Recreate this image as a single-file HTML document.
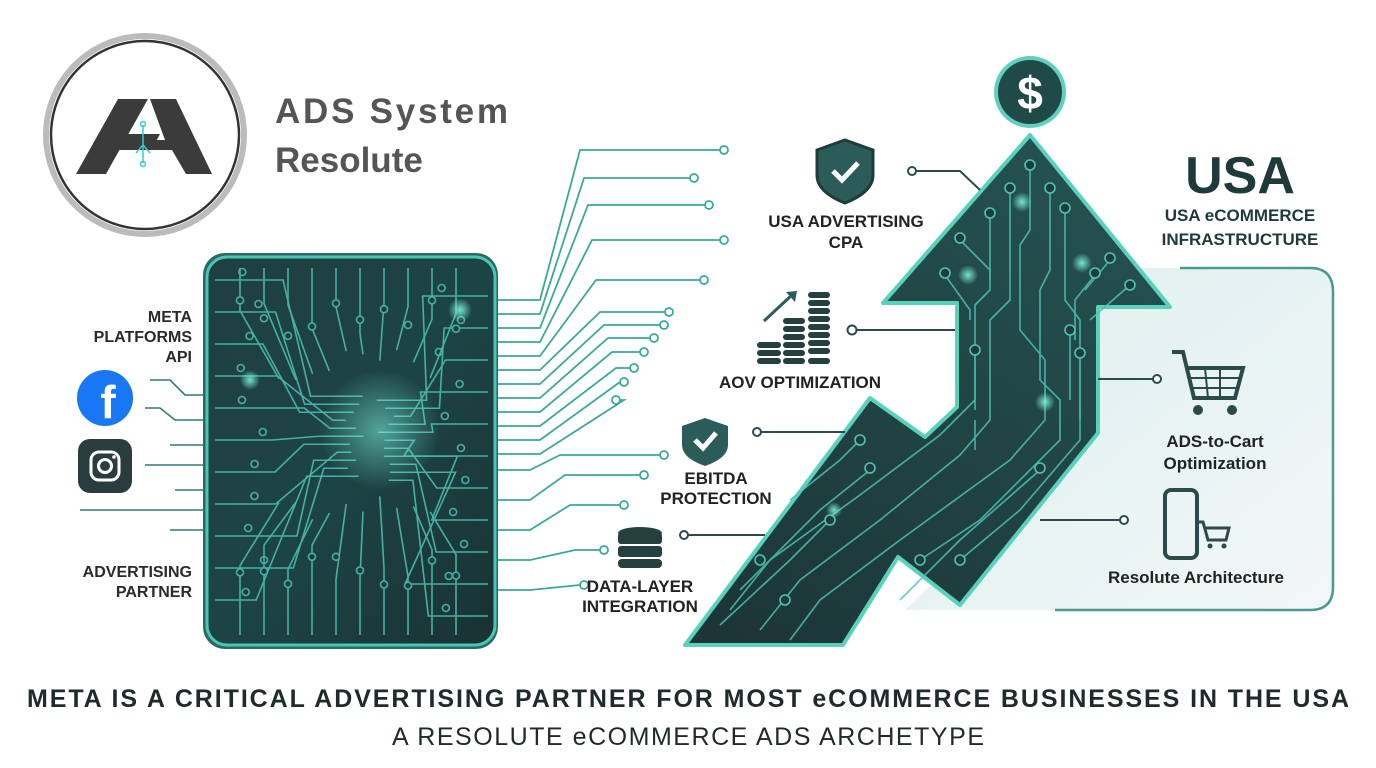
<!DOCTYPE html>
<html><head><meta charset="utf-8"><style>
html,body{margin:0;padding:0;background:#fff;}
svg{display:block}
text{font-family:"Liberation Sans",sans-serif;}
</style></head><body>
<svg width="1376" height="768" viewBox="0 0 1376 768" xmlns="http://www.w3.org/2000/svg">
<defs>
<linearGradient id="chip" x1="0" y1="0" x2="1" y2="1"><stop offset="0" stop-color="#1f3f41"/><stop offset="0.5" stop-color="#1d4445"/><stop offset="1" stop-color="#1a3234"/></linearGradient>
<linearGradient id="arr" x1="0" y1="1" x2="0.6" y2="0"><stop offset="0" stop-color="#1c3436"/><stop offset="1" stop-color="#24504f"/></linearGradient>
<linearGradient id="pan" x1="0" y1="0" x2="1" y2="1"><stop offset="0" stop-color="#dcefed"/><stop offset="1" stop-color="#f2f7f7"/></linearGradient>
<radialGradient id="glow"><stop offset="0" stop-color="#7ff5e0" stop-opacity="0.9"/><stop offset="1" stop-color="#7ff5e0" stop-opacity="0"/></radialGradient>
</defs>

<!-- logo -->
<circle cx="145" cy="135" r="99" fill="#fff" stroke="#bbb" stroke-width="6"/>
<circle cx="145" cy="135" r="94" fill="none" stroke="#333" stroke-width="2.5"/>
<polygon points="76,174 118,99 148,99 106,174" fill="#3b3b3b"/>
<polygon points="122,134 160,134 154,145 116,145" fill="#3b3b3b"/>
<polygon points="150,99 176,99 212,174 186,174 172,150 114,150 120,140 165,140" fill="#3b3b3b"/>
<g stroke="#3cc" stroke-width="1.5" fill="none"><line x1="143" y1="125" x2="143" y2="163"/><path d="M143 145 L136 153 M143 145 L150 153"/><circle cx="143" cy="124" r="2.5"/><circle cx="143" cy="164" r="2.5"/></g>
<text x="275" y="123" font-size="35" font-weight="bold" fill="#555" textLength="233">ADS System</text>
<text x="275" y="172" font-size="35" font-weight="bold" fill="#555">Resolute</text>

<!-- left labels -->
<g font-size="16" font-weight="bold" fill="#2a2a2a" text-anchor="end">
<text x="192" y="322">META</text><text x="192" y="342">PLATFORMS</text><text x="192" y="362">API</text>
<text x="192" y="577">ADVERTISING</text><text x="192" y="597">PARTNER</text>
</g>
<circle cx="105" cy="398" r="28" fill="#1877f2"/>
<text x="108" y="418" font-size="46" font-weight="bold" fill="#fff" text-anchor="middle">f</text>
<rect x="78" y="439" width="54" height="54" rx="12" fill="#2a3c3e"/>
<rect x="91" y="452" width="28" height="28" rx="8" fill="none" stroke="#fff" stroke-width="3"/>
<circle cx="105" cy="466" r="6.5" fill="none" stroke="#fff" stroke-width="3"/>
<circle cx="114" cy="457" r="1.8" fill="#fff"/>
<g stroke="#2e7a76" stroke-width="1.6" fill="none">
<path d="M150 380 H170 L185 395 H205"/><path d="M145 408 H160 L175 420 H205"/><path d="M170 445 H205"/><path d="M145 465 H205"/><path d="M80 510 H205"/><path d="M175 490 H205"/><path d="M170 530 H205"/>
</g>

<!-- chip -->
<rect x="203" y="253" width="295" height="396" rx="22" fill="#2a6a66"/>
<rect x="207" y="257" width="288" height="388" rx="20" fill="url(#chip)" stroke="#48c7b5" stroke-width="3"/>
<g id="ct" stroke="#4fc4b4" stroke-width="1.6" fill="none" opacity="0.85"></g>
<circle cx="380" cy="430" r="60" fill="url(#glow)" opacity="0.6"/>
<circle cx="460" cy="310" r="12" fill="url(#glow)"/>
<circle cx="250" cy="380" r="10" fill="url(#glow)"/>

<g stroke="#3aa89a" stroke-width="1.8" fill="none" id="cn"></g>

<!-- middle icons -->
<path d="M845 140 L873 150 V175 Q873 192 845 203 Q817 192 817 175 V150 Z" fill="#2b5c5a" stroke="#1e3c3c" stroke-width="3"/>
<path d="M833 171 L842 180 L858 163" stroke="#fff" stroke-width="5" fill="none"/>
<g font-size="17" font-weight="bold" fill="#222" text-anchor="middle">
<text x="846" y="227">USA ADVERTISING</text><text x="846" y="248">CPA</text>
<text x="800" y="388">AOV OPTIMIZATION</text>
<text x="716" y="484">EBITDA</text><text x="716" y="504">PROTECTION</text>
<text x="640" y="592">DATA-LAYER</text><text x="640" y="612">INTEGRATION</text>
</g>
<g fill="#24403f">
<rect x="757" y="342" width="24" height="6" rx="3"/><rect x="757" y="350" width="24" height="6" rx="3"/><rect x="757" y="358" width="24" height="6" rx="3"/>
<rect x="783" y="318" width="22" height="6" rx="3"/><rect x="783" y="326" width="22" height="6" rx="3"/><rect x="783" y="334" width="22" height="6" rx="3"/><rect x="783" y="342" width="22" height="6" rx="3"/><rect x="783" y="350" width="22" height="6" rx="3"/><rect x="783" y="358" width="22" height="6" rx="3"/>
<rect x="808" y="292" width="22" height="6" rx="3"/><rect x="808" y="300" width="22" height="6" rx="3"/><rect x="808" y="308" width="22" height="6" rx="3"/><rect x="808" y="316" width="22" height="6" rx="3"/><rect x="808" y="324" width="22" height="6" rx="3"/><rect x="808" y="332" width="22" height="6" rx="3"/><rect x="808" y="340" width="22" height="6" rx="3"/><rect x="808" y="348" width="22" height="6" rx="3"/><rect x="808" y="358" width="22" height="6" rx="3"/>
</g>
<path d="M764 321 L793 294" stroke="#2b5c5a" stroke-width="3"/><path d="M786 292 L797 291 L795 302 Z" fill="#2b5c5a"/>
<path d="M705 418 L728 426 V445 Q728 458 705 466 Q682 458 682 445 V426 Z" fill="#2b5c5a"/>
<path d="M695 440 L703 448 L716 433" stroke="#fff" stroke-width="5" fill="none"/>
<g fill="#24403f"><ellipse cx="640" cy="533" rx="22" ry="6"/><rect x="618" y="533" width="44" height="11" rx="3"/><rect x="618" y="546" width="44" height="11" rx="3"/><rect x="618" y="559" width="44" height="9" rx="4"/></g>
<g stroke="#fff" stroke-width="1.5"><line x1="618" y1="545" x2="662" y2="545"/><line x1="618" y1="558" x2="662" y2="558"/></g>

<!-- right panel -->
<path d="M1140 268 H1310 Q1333 268 1333 292 V587 Q1333 610 1310 610 H905 L1100 420 V300 Z" fill="url(#pan)"/>
<path d="M1180 268 H1310 Q1333 268 1333 292 V587 Q1333 610 1310 610 H1055" stroke="#4a9a92" stroke-width="2.5" fill="none"/>
<text x="1240" y="193" font-size="52" font-weight="bold" fill="#1e3a3a" text-anchor="middle">USA</text>
<g font-size="17" font-weight="bold" fill="#1e3a3a" text-anchor="middle"><text x="1240" y="221">USA eCOMMERCE</text><text x="1240" y="245">INFRASTRUCTURE</text></g>
<g font-size="17" font-weight="bold" fill="#222" text-anchor="middle"><text x="1215" y="447">ADS-to-Cart</text><text x="1215" y="469">Optimization</text><text x="1196" y="583">Resolute Architecture</text></g>
<g fill="none" stroke="#2b4b4b" stroke-width="4"><path d="M1172 352 H1183 L1194 398 H1235 L1243 368 H1186"/></g>
<g stroke="#2b4b4b" stroke-width="2"><line x1="1190" y1="378" x2="1240" y2="378"/><line x1="1190" y1="388" x2="1238" y2="388"/><line x1="1205" y1="368" x2="1208" y2="398"/><line x1="1220" y1="368" x2="1220" y2="398"/></g>
<circle cx="1198" cy="410" r="5" fill="#2b4b4b"/><circle cx="1232" cy="410" r="5" fill="#2b4b4b"/>
<rect x="1165" y="490" width="32" height="68" rx="6" fill="none" stroke="#2b4b4b" stroke-width="4"/>
<path d="M1195 522 H1203 L1208 540 H1226 L1229 528 H1205" stroke="#2b4b4b" stroke-width="3" fill="none"/>
<circle cx="1210" cy="546" r="2.5" fill="#2b4b4b"/><circle cx="1224" cy="546" r="2.5" fill="#2b4b4b"/>

<!-- arrow -->
<polygon points="1030,135 1170,307 1098,307 1098,433 960,605 898,557 843,645 685,645 870,398 925,437 957,407 957,303 883,303" fill="url(#arr)" stroke="#5ad1bd" stroke-width="4" stroke-linejoin="round"/>
<g stroke="#4fc4b4" stroke-width="1.6" fill="none" opacity="0.85">
<path d="M1030 165 V230 L1020 245 V330 L1045 360 V420 L1010 460 L900 540 L820 600 L790 640"/>
<path d="M1010 190 V300 L990 320 V420 L960 455 L880 520 L800 580 L760 630"/>
<path d="M1050 190 V270 L1040 290 V380 L1060 400 V440 L980 520 L920 560"/>
<path d="M990 215 V290 L975 305 V400 L940 435 L860 495 L770 560 L730 610"/>
<path d="M1065 210 V300 L1080 320 V440 L1020 510 L960 560"/>
<path d="M960 240 L990 270 V280"/><path d="M945 275 L970 310 V320"/><path d="M1095 275 L1075 300 V340"/><path d="M1110 260 L1085 290"/><path d="M1130 285 L1090 320"/>
<path d="M1070 330 V400"/><path d="M975 350 V410"/><path d="M975 420 V450"/><path d="M1080 360 V420"/>
<path d="M1040 470 L960 540 L900 600"/><path d="M860 440 L840 460 L790 500"/><path d="M870 470 L820 510 L740 590"/><path d="M830 520 L790 560 L720 625"/>
</g>
<g fill="#1f3c3c" stroke="#4fc4b4" stroke-width="1.6">
<circle cx="1030" cy="165" r="5"/><circle cx="1010" cy="188" r="5"/><circle cx="1050" cy="188" r="5"/><circle cx="990" cy="213" r="5"/><circle cx="1065" cy="208" r="5"/><circle cx="960" cy="238" r="5"/><circle cx="945" cy="273" r="5"/><circle cx="1095" cy="273" r="5"/><circle cx="1130" cy="285" r="5"/><circle cx="1110" cy="258" r="5"/><circle cx="975" cy="350" r="5"/><circle cx="1080" cy="353" r="5"/><circle cx="1070" cy="330" r="5"/><circle cx="860" cy="440" r="5"/><circle cx="870" cy="468" r="5"/><circle cx="830" cy="520" r="5"/><circle cx="1040" cy="468" r="5"/><circle cx="920" cy="560" r="5"/><circle cx="960" cy="560" r="5"/><circle cx="760" cy="560" r="5"/><circle cx="785" cy="600" r="5"/>
</g>
<circle cx="1022" cy="202" r="10" fill="url(#glow)"/><circle cx="968" cy="275" r="10" fill="url(#glow)"/><circle cx="1082" cy="263" r="10" fill="url(#glow)"/><circle cx="1045" cy="402" r="10" fill="url(#glow)"/><circle cx="834" cy="510" r="8" fill="url(#glow)"/>

<g stroke="#2b4b4b" stroke-width="2" fill="none">
<path d="M912 171 H960 L980 190"/><path d="M857 330 H955"/><path d="M758 432 H845"/><path d="M685 535 H765"/>
<path d="M1098 379 H1153"/><path d="M1040 520 H1122"/>
</g>
<g fill="#fff" stroke="#2b4b4b" stroke-width="2"><circle cx="912" cy="171" r="4"/><circle cx="852" cy="330" r="4.5"/><circle cx="757" cy="432" r="4"/><circle cx="684" cy="535" r="4"/><circle cx="1157" cy="379" r="4"/><circle cx="1124" cy="520" r="4"/></g>

<!-- dollar coin -->
<circle cx="1030" cy="92" r="36" fill="#5fd0bd"/>
<circle cx="1030" cy="92" r="32" fill="#1f4a48"/>
<text x="1030" y="109" font-size="46" font-weight="bold" fill="#fff" text-anchor="middle">$</text>

<!-- bottom text -->
<text x="688" y="707" font-size="25" font-weight="bold" fill="#1f2a2a" text-anchor="middle" textLength="1322">META IS A CRITICAL ADVERTISING PARTNER FOR MOST eCOMMERCE BUSINESSES IN THE USA</text>
<text x="688" y="745" font-size="25" fill="#1f2a2a" text-anchor="middle" textLength="592">A RESOLUTE eCOMMERCE ADS ARCHETYPE</text>

<script>
(function(){
var ns="http://www.w3.org/2000/svg";
function add(g,tag,attrs){var e=document.createElementNS(ns,tag);for(var k in attrs)e.setAttribute(k,attrs[k]);g.appendChild(e);return e;}
var ct=document.getElementById('ct');
var seed=7;function r(){seed=(seed*9301+49297)%233280;return seed/233280;}
var cx=370,cy=435;
for(var i=0;i<22;i++){
 var side=i%2? 1:-1;
 var y0=280+i*16;
 var x0= side<0?215:488;
 var bend=cx+side*(30+r()*60);
 var ty=cy+(y0-cy)*0.25;
 var d="M"+x0+" "+y0+" H"+(x0+side*-1*(40+r()*50))+" L"+bend+" "+ty+" H"+(cx+side*(5+r()*20));
 add(ct,'path',{d:d});
 add(ct,'circle',{cx:x0+side*-1*(20+r()*30),cy:y0-8,r:3.5,fill:'#1e3d3e'});
}
for(var j=0;j<10;j++){
 var x=240+j*24;
 add(ct,'path',{d:"M"+x+" 268 V"+(300+r()*40)+" L"+(x+ (cx-x)*0.3)+" "+(350+r()*30)});
 add(ct,'circle',{cx:x,cy:300+r()*40,r:3.5,fill:'#1e3d3e'});
 add(ct,'path',{d:"M"+x+" 635 V"+(580-r()*40)+" L"+(x+(cx-x)*0.3)+" "+(520-r()*30)});
 add(ct,'circle',{cx:x,cy:590-r()*40,r:3.5,fill:'#1e3d3e'});
}
var cn=document.getElementById('cn');
var ends=[[720,152,150],[690,175,178],[705,205,205],[720,232,240],[700,262,280],[665,285,312],[660,310,325],[650,332,338],[640,358,352],[630,380,368],[620,408,382],[612,432,400]];
ends.forEach(function(e,k){
 var y0=300+k*14;
 add(cn,'path',{d:"M498 "+y0+" H540 L"+(580+k*4)+" "+e[2]+" H"+e[0]});
 add(cn,'circle',{cx:e[0]+4,cy:e[2],r:4,fill:'#fff'});
});
var low=[[660,450,455],[640,480,475],[620,505,505],[600,540,550],[580,565,585]];
low.forEach(function(e,k){
 var y0=470+k*30;
 add(cn,'path',{d:"M498 "+y0+" H530 L"+(560+k*5)+" "+e[2]+" H"+e[0]});
 add(cn,'circle',{cx:e[0]+4,cy:e[2],r:4,fill:'#fff'});
});
})();
</script>
</svg>
</body></html>
